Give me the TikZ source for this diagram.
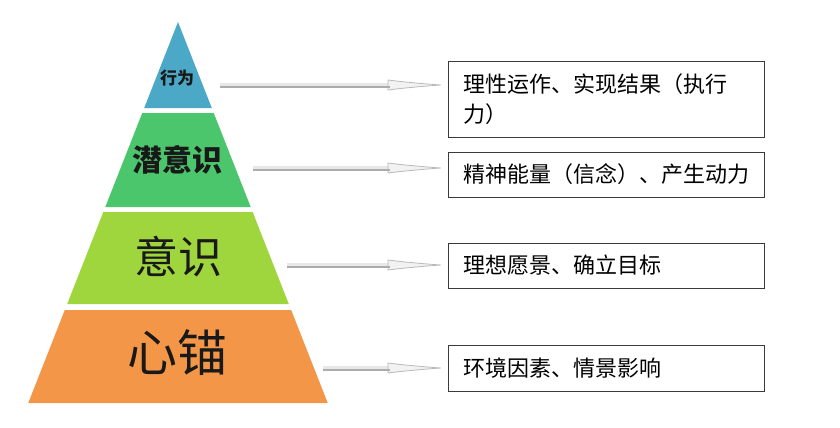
\documentclass[tikz,border=0pt]{standalone}
\usepackage{fontspec}
\setmainfont{Noto Sans CJK SC}
\usetikzlibrary{arrows.meta}
\definecolor{tierblue}{HTML}{4BA8C6}
\definecolor{tiergreen}{HTML}{4CC66C}
\definecolor{tierlime}{HTML}{9FD63E}
\definecolor{tierorange}{HTML}{F39647}
\definecolor{boxline}{HTML}{3A3A3A}
\begin{document}
\begin{tikzpicture}[x=1pt,y=-1pt,
	tiertext/.style={text=black!90, inner sep=0pt},
	infobox/.style={draw=boxline, line width=1pt, anchor=west, align=left,
		text width=286pt, inner xsep=15pt, inner ysep=0pt,
		font=\fontsize{22}{30}\selectfont},
	pointer/.style={draw=gray!18, line width=4.5pt,
		-{Latex[length=60pt,width=11pt,open,fill=gray!10,color=gray!55,line width=0.8pt]},
		postaction={draw=gray!65, line width=1.4pt, shorten >=58pt, -, transform canvas={yshift=-1.8pt}}}]
	\useasboundingbox (0,0) rectangle (840,428);
	% pyramid tiers
	\foreach \ytop/\ybot/\col in {22/108/tierblue,113/207/tiergreen,212/304/tierlime,310/403/tierorange}
		\fill[\col] ({178-0.393*(\ytop-22)},\ytop) -- ({178+0.393*(\ytop-22)},\ytop)
			-- ({178+0.393*(\ybot-22)},\ybot) -- ({178-0.393*(\ybot-22)},\ybot) -- cycle;
	\node[tiertext, font=\bfseries\fontsize{17}{17}\selectfont] (act) at (177,78) {行为};
	\node[tiertext, font=\bfseries\fontsize{30}{30}\selectfont] (subc) at (177,160) {潜意识};
	\node[tiertext, font=\fontsize{44}{44}\selectfont] (consc) at (178,257) {意识};
	\node[tiertext, font=\fontsize{50}{50}\selectfont] (heart) at (177,353) {心锚};
	% boxes
	\node[infobox, minimum height=75pt] (box1) at (447.5,99.5) {理性运作、实现结果（执行\\力）};
	\node[infobox, minimum height=45pt] (box2) at (447.5,174.5) {精神能量（信念）、产生动力};
	\node[infobox, minimum height=45pt] (box3) at (447.5,265.5) {理想愿景、确立目标};
	\node[infobox, minimum height=46pt] (box4) at (447.5,368) {环境因素、情景影响};
	% arrows
	\coordinate (s1) at (220,85);
	\coordinate (s2) at (253,168);
	\coordinate (s3) at (287,265);
	\coordinate (s4) at (323,368);
	\draw[pointer] (s1) -- (s1 -| box1.west);
	\draw[pointer] (s2) -- (s2 -| box2.west);
	\draw[pointer] (s3) -- (s3 -| box3.west);
	\draw[pointer] (s4) -- (s4 -| box4.west);
\end{tikzpicture}
\end{document}
